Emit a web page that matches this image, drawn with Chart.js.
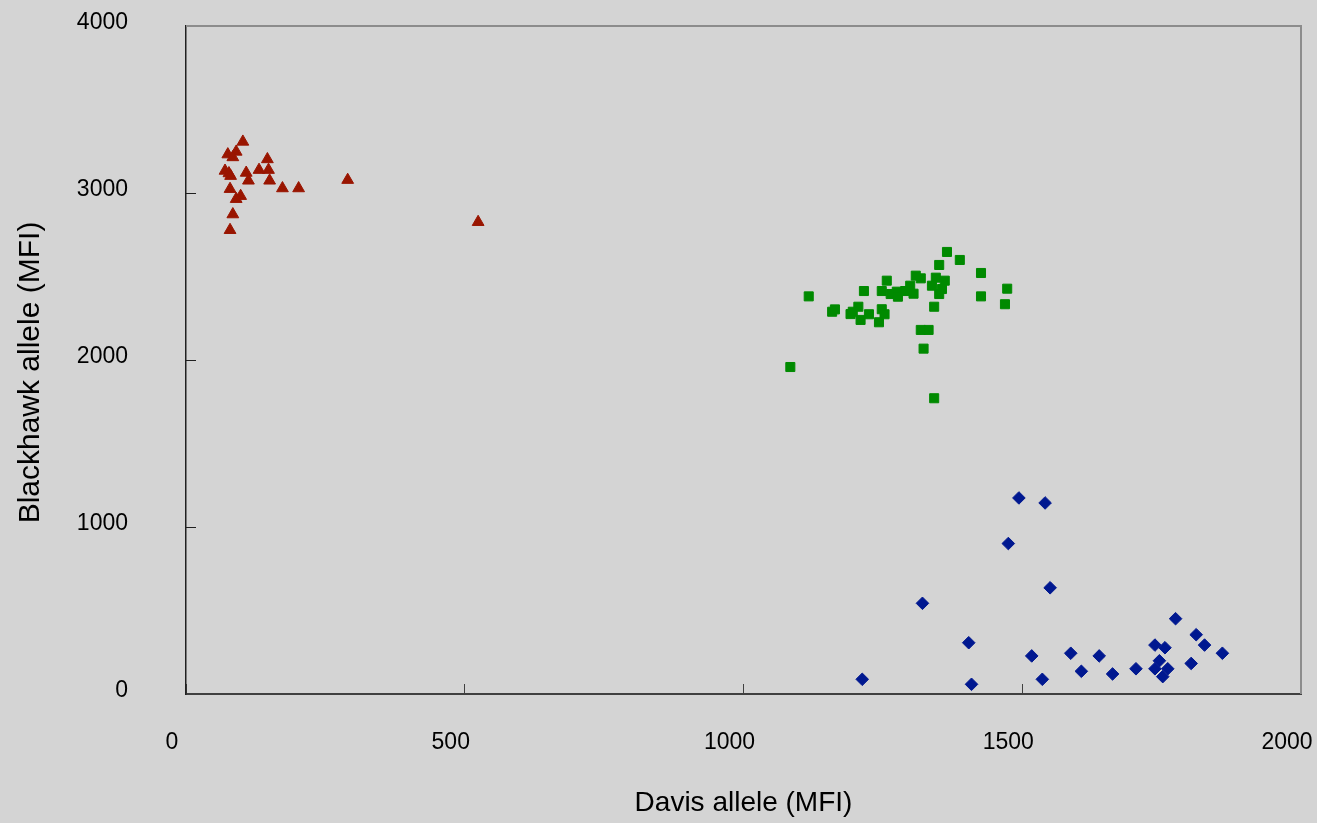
<!DOCTYPE html>
<html>
<head>
<meta charset="utf-8">
<script src="https://cdn.jsdelivr.net/npm/chart.js@4/dist/chart.umd.min.js"></script>
<style>
  html, body { margin: 0; padding: 0; background: #d4d4d4; }
  canvas { display: block; }
</style>
</head>
<body>
<canvas id="c" width="1317" height="823"></canvas>
<script>
// Red triangles
const triX = [102, 75, 90, 84, 146, 70, 77, 80, 108, 131, 148, 112, 150, 173, 202, 290, 79, 98, 90, 84, 79, 524];
const triY = [3307, 3231, 3247, 3214, 3202, 3133, 3118, 3102, 3121, 3138, 3138, 3074, 3074, 3028, 3028, 3078, 3024, 2982, 2964, 2872, 2778, 2826];
// Green squares
const sqX = [1365, 1388, 1351, 1426, 1309, 1318, 1257, 1345, 1361, 1338, 1356, 1351, 1342, 1299, 1473, 1117, 1216, 1248, 1264, 1275, 1277, 1290, 1305, 1426, 1469, 1159, 1164, 1206, 1192, 1196, 1210, 1225, 1248, 1253, 1243, 1318, 1332, 1323, 1084, 1342];
const sqY = [2647, 2599, 2569, 2521, 2505, 2489, 2475, 2493, 2475, 2445, 2425, 2395, 2319, 2445, 2427, 2381, 2413, 2413, 2395, 2409, 2379, 2413, 2397, 2381, 2334, 2289, 2303, 2319, 2275, 2289, 2240, 2274, 2304, 2274, 2226, 2180, 2180, 2068, 1958, 1771];
// Blue diamonds
const diaX = [1494, 1541, 1475, 1550, 1321, 1775, 1812, 1404, 1738, 1756, 1827, 1517, 1587, 1638, 1859, 1746, 1803, 1738, 1761, 1704, 1606, 1662, 1752, 1213, 1536, 1409];
const diaY = [1174, 1144, 901, 636, 543, 451, 355, 307, 293, 277, 293, 228, 244, 228, 244, 199, 183, 151, 151, 151, 136, 120, 104, 88, 88, 58];

const xTicks = [0, 500, 1000, 1500, 2000];
const yTicks = [0, 1000, 2000, 3000, 4000];
const xTitle = 'Davis allele (MFI)';
const yTitle = 'Blackhawk allele (MFI)';

function pts(xs, ys) { return xs.map((x, i) => ({ x: x, y: ys[i] })); }

const FONT = "'Liberation Sans', Arial, sans-serif";

const framePlugin = {
  id: 'frame',
  beforeDatasetsDraw(chart) {
    const a = chart.chartArea, ctx = chart.ctx;
    ctx.save();
    ctx.strokeStyle = '#8c8c8c';
    ctx.lineWidth = 2;
    ctx.beginPath();
    ctx.moveTo(a.left, a.top);
    ctx.lineTo(a.right, a.top);
    ctx.lineTo(a.right, a.bottom);
    ctx.stroke();
    ctx.restore();
  }
};

function zeroPad(s) { s.paddingLeft = 0; s.paddingRight = 0; s.paddingTop = 0; s.paddingBottom = 0; }

new Chart(document.getElementById('c'), {
  type: 'scatter',
  data: {
    datasets: [
      { data: pts(triX, triY), pointStyle: 'triangle', pointRadius: 6.8, backgroundColor: '#991500', borderColor: '#991500', borderWidth: 1 },
      { data: pts(sqX, sqY), pointStyle: 'rect', pointRadius: 6.4, backgroundColor: '#008a00', borderColor: '#008a00', borderWidth: 1 },
      { data: pts(diaX, diaY), pointStyle: 'rectRot', pointRadius: 6.3, backgroundColor: '#001890', borderColor: '#001890', borderWidth: 1 }
    ]
  },
  options: {
    responsive: false,
    animation: false,
    layout: { padding: { top: 26, right: 16, left: 0, bottom: 0 } },
    plugins: { legend: { display: false }, tooltip: { enabled: false } },
    scales: {
      x: {
        type: 'linear', min: 0, max: 2000,
        afterBuildTicks(s) { s.ticks = xTicks.map(v => ({ value: v })); },
        afterFit(s) { s.height = 129; zeroPad(s); },
        grid: { drawOnChartArea: false, drawTicks: true, tickLength: -10, color: '#404040', lineWidth: 1 },
        border: { color: '#404040', width: 2 },
        ticks: { color: '#000', font: { family: FONT, size: 23 }, padding: 45, labelOffset: -14, maxRotation: 0, callback: v => String(v) },
        title: { display: true, text: xTitle, color: '#000', font: { family: FONT, size: 28 }, padding: { top: 0, bottom: 3 } }
      },
      y: {
        type: 'linear', min: 0, max: 4000,
        afterBuildTicks(s) { s.ticks = yTicks.map(v => ({ value: v })); },
        afterFit(s) { s.width = 186; zeroPad(s); },
        grid: { drawOnChartArea: false, drawTicks: true, tickLength: -10, color: '#202020', lineWidth: 1 },
        border: { color: '#202020', width: 1.5 },
        ticks: { color: '#000', font: { family: FONT, size: 23 }, padding: 68, labelOffset: -3, callback: v => String(v) },
        title: { display: true, text: yTitle + '   ', color: '#000', font: { family: FONT, size: 30 }, padding: { top: 13, bottom: 0 } }
      }
    }
  },
  plugins: [framePlugin]
});
</script>
</body>
</html>
